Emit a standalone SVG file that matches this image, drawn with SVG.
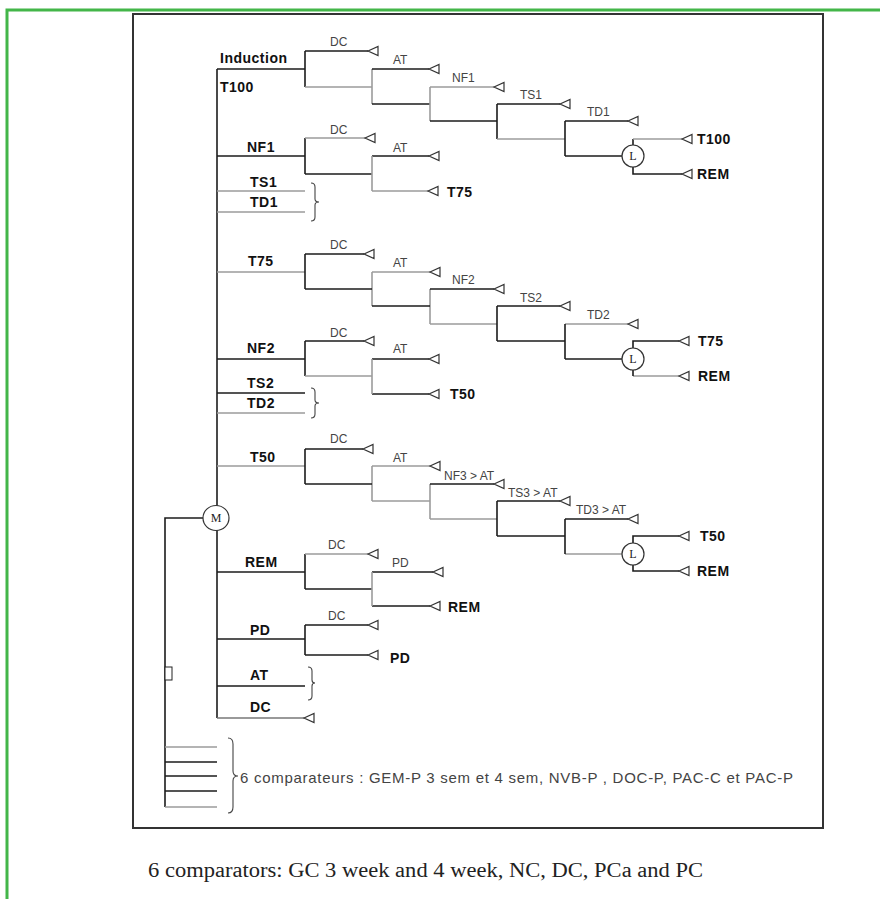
<svg xmlns="http://www.w3.org/2000/svg" xmlns:xlink="http://www.w3.org/1999/xlink" width="880" height="899" viewBox="0 0 880 899">
<style>
.k{stroke:#1c1c1c;stroke-width:1.6;fill:none}
.g{stroke:#9c9c9c;stroke-width:1.6;fill:none}
.br{stroke:#444;stroke-width:1.1;fill:none}
.tri{fill:#fff;stroke:#333;stroke-width:1.2}
.s{font-family:"Liberation Sans",Arial,sans-serif;font-size:12px;fill:#444}
.b{font-family:"Liberation Sans",Arial,sans-serif;font-size:14px;font-weight:bold;fill:#111;letter-spacing:0.5px}
.c{fill:#fff;stroke:#333;stroke-width:1.2}
.cl{font-family:"Liberation Serif","Times New Roman",serif;font-size:12px;fill:#222;text-anchor:middle}
</style>
<defs>
<path id="tri" class="tri" d="M0,0 L10,-4.5 L10,4.5 Z"/>
</defs>
<rect width="880" height="899" fill="#fff"/>
<path d="M7,899 V10 H880" stroke="#43b649" stroke-width="3" fill="none"/>
<rect x="133" y="14" width="690" height="814" fill="#fff" stroke="#333" stroke-width="2"/>

<g id="connectors">
<!-- spine -->
<path class="k" d="M217,69 V718"/>
<!-- block 1 -->
<path class="k" d="M217,69 H305 M305,51 V87 M305,51 H368"/>
<path class="g" d="M305,87 H372 M372,69 V104"/>
<path class="k" d="M372,69 H429 M372,104 H430"/>
<path class="g" d="M430,87 V121 M430,87 H494"/>
<path class="k" d="M430,121 H497 M497,104 V139 M497,104 H560"/>
<path class="g" d="M497,139 H565"/>
<path class="k" d="M565,121 V156 M565,121 H628 M565,156 H622 M633,145 V139 M633,167 V174 H682"/>
<path class="g" d="M633,139 H682"/>
<!-- block 2 -->
<path class="k" d="M217,156 H305 M305,138 V174 M305,174 H372 M372,156 H429"/>
<path class="g" d="M305,138 H365 M372,156 V191 M372,191 H428 M217,191 H305 M217,212 H305"/>
<!-- block 3 -->
<path class="g" d="M217,272 H305 M372,272 V306 M372,272 H430 M430,289 V324 M430,324 H497 M565,324 H628 M633,376 H679"/>
<path class="k" d="M305,254 V289 M305,254 H364 M305,289 H372 M372,306 H430 M430,289 H494 M497,306 V341 M497,306 H560 M497,341 H565 M565,324 V359 M565,359 H622 M633,348 V341 H679 M633,370 V376"/>
<!-- block 4 -->
<path class="k" d="M217,359 H305 M305,341 V376 M305,341 H364 M372,359 H429 M372,394 H429 M217,393 H305"/>
<path class="g" d="M305,376 H372 M372,359 V394 M217,413 H305"/>
<!-- block 5 -->
<path class="g" d="M217,466 H305 M372,466 V501 M372,466 H430 M372,501 H430 M430,484 V519 M430,519 H497 M565,554 H622"/>
<path class="k" d="M305,449 V484 M305,449 H363 M305,484 H372 M430,484 H494 M497,501 V536 M497,501 H560 M497,536 H565 M565,519 V554 M565,519 H628 M633,543 V536 H679 M633,565 V571 H679"/>
<!-- block 6 -->
<path class="k" d="M217,572 H305 M305,554 V589 M305,589 H372 M372,572 H433 M372,606 H430"/>
<path class="g" d="M305,554 H368 M372,572 V606"/>
<!-- block 7 -->
<path class="k" d="M217,639 H305 M305,625 V655 M305,625 H368 M305,655 H368 M217,686 H305"/>
<path class="g" d="M217,718 H304" style="stroke:#777"/>
<!-- M link and comparators -->
<path class="k" d="M203,518 H165 V807"/>
<rect x="165" y="667" width="7" height="13" fill="#fff" stroke="#222" stroke-width="1"/>
<path class="g" d="M165,747 H217 M165,807 H217"/>
<path class="k" d="M165,762 H217 M165,776 H217 M165,791 H217"/>
<!-- braces -->
<path class="br" d="M311,183 Q315,183 315,187 V199 Q315,202 319,202 Q315,202 315,205 V217 Q315,221 311,221"/>
<path class="br" d="M311,388 Q315,388 315,392 V400 Q315,403 319,403 Q315,403 315,406 V414 Q315,418 311,418"/>
<path class="br" d="M308,667 Q312,667 312,671 V680 Q312,683 315,683 Q312,683 312,686 V696 Q312,700 308,700"/>
<path class="br" d="M228,738 Q233,738 233,744 V771 Q233,776 238,776 Q233,776 233,781 V807 Q233,813 228,813"/>
</g>

<g id="block-induction">
<text class="b" x="220" y="63">Induction</text>
<text class="b" x="220" y="92">T100</text>
<text class="s" x="330" y="46">DC</text><use href="#tri" x="368" y="51"/>
<text class="s" x="393" y="64">AT</text><use href="#tri" x="429" y="69"/>
<text class="s" x="452" y="82">NF1</text><use href="#tri" x="494" y="87"/>
<text class="s" x="520" y="99">TS1</text><use href="#tri" x="560" y="104"/>
<text class="s" x="587" y="116">TD1</text><use href="#tri" x="628" y="121"/>
<g id="L1"><circle class="c" cx="633" cy="156" r="11"/><text class="cl" x="633" y="160">L</text></g>
<use href="#tri" x="682" y="139"/><text class="b" x="697" y="144">T100</text>
<use href="#tri" x="682" y="174"/><text class="b" x="697" y="179">REM</text>
</g>

<g id="block-nf1">
<text class="b" x="247" y="152">NF1</text>
<text class="s" x="330" y="134">DC</text><use href="#tri" x="365" y="138"/>
<text class="s" x="393" y="152">AT</text><use href="#tri" x="429" y="156"/>
<use href="#tri" x="428" y="191"/><text class="b" x="447" y="197">T75</text>
<text class="b" x="250" y="187">TS1</text>
<text class="b" x="250" y="207">TD1</text>
</g>

<g id="block-t75">
<text class="b" x="248" y="266">T75</text>
<text class="s" x="330" y="249">DC</text><use href="#tri" x="364" y="254"/>
<text class="s" x="393" y="267">AT</text><use href="#tri" x="430" y="272"/>
<text class="s" x="452" y="284">NF2</text><use href="#tri" x="494" y="289"/>
<text class="s" x="520" y="302">TS2</text><use href="#tri" x="560" y="306"/>
<text class="s" x="587" y="319">TD2</text><use href="#tri" x="628" y="324"/>
<g id="L2"><circle class="c" cx="633" cy="359" r="11"/><text class="cl" x="633" y="363">L</text></g>
<use href="#tri" x="679" y="341"/><text class="b" x="698" y="346">T75</text>
<use href="#tri" x="679" y="376"/><text class="b" x="698" y="381">REM</text>
</g>

<g id="block-nf2">
<text class="b" x="247" y="353">NF2</text>
<text class="s" x="330" y="337">DC</text><use href="#tri" x="364" y="341"/>
<text class="s" x="393" y="353">AT</text><use href="#tri" x="429" y="359"/>
<use href="#tri" x="429" y="394"/><text class="b" x="450" y="399">T50</text>
<text class="b" x="247" y="388">TS2</text>
<text class="b" x="247" y="408">TD2</text>
</g>

<g id="block-t50">
<text class="b" x="250" y="462">T50</text>
<text class="s" x="330" y="443">DC</text><use href="#tri" x="363" y="449"/>
<text class="s" x="393" y="462">AT</text><use href="#tri" x="430" y="466"/>
<text class="s" x="444" y="480">NF3 &gt; AT</text><use href="#tri" x="494" y="484"/>
<text class="s" x="508" y="497">TS3 &gt; AT</text><use href="#tri" x="560" y="501"/>
<text class="s" x="576" y="514">TD3 &gt; AT</text><use href="#tri" x="628" y="519"/>
<g id="L3"><circle class="c" cx="633" cy="554" r="11"/><text class="cl" x="633" y="558">L</text></g>
<use href="#tri" x="679" y="536"/><text class="b" x="700" y="541">T50</text>
<use href="#tri" x="679" y="571"/><text class="b" x="697" y="576">REM</text>
</g>

<g id="node-M"><ellipse class="c" cx="216" cy="518" rx="13" ry="12.5"/><text class="cl" x="216" y="522">M</text></g>

<g id="block-rem">
<text class="b" x="245" y="567">REM</text>
<text class="s" x="328" y="549">DC</text><use href="#tri" x="368" y="554"/>
<text class="s" x="392" y="567">PD</text><use href="#tri" x="433" y="572"/>
<use href="#tri" x="430" y="606"/><text class="b" x="448" y="612">REM</text>
</g>

<g id="block-pd">
<text class="b" x="250" y="635">PD</text>
<text class="s" x="328" y="620">DC</text><use href="#tri" x="368" y="625"/>
<use href="#tri" x="368" y="655"/><text class="b" x="390" y="663">PD</text>
</g>

<g id="block-at-dc">
<text class="b" x="250" y="680">AT</text>
<text class="b" x="250" y="712">DC</text>
<use href="#tri" x="304" y="718"/>
</g>

<g id="comparators">
<text x="240" y="783" font-family="Liberation Sans, Arial, sans-serif" font-size="15" fill="#444" textLength="553" lengthAdjust="spacing">6 comparateurs : GEM-P 3 sem et 4 sem, NVB-P , DOC-P, PAC-C et PAC-P</text>
</g>

<text x="148" y="877" font-family="Liberation Serif, Times New Roman, serif" font-size="20" fill="#222" textLength="555" lengthAdjust="spacingAndGlyphs">6 comparators: GC 3 week and 4 week, NC, DC, PCa and PC</text>
</svg>
